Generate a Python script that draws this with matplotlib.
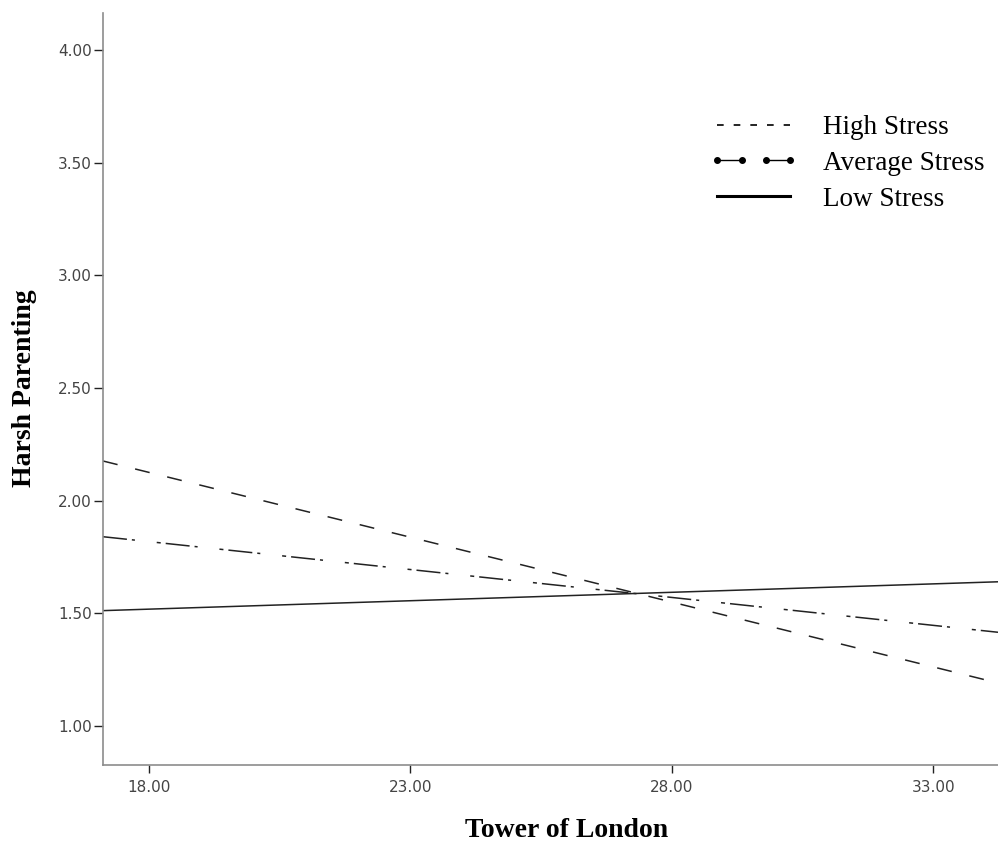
import numpy as np
import matplotlib.pyplot as plt
from matplotlib.lines import Line2D

# data (line end points)
tol_x = [17.12, 34.24]
high_stress = [2.176, 1.191]
avg_stress = [1.84, 1.416]
low_stress = [1.512, 1.640]

x_ticks = [18, 23, 28, 33]
y_ticks = [1.0, 1.5, 2.0, 2.5, 3.0, 3.5, 4.0]

plt.rcParams['lines.scale_dashes'] = False

fig = plt.figure(figsize=(9.98, 8.46), dpi=100)
ax = fig.add_axes([103 / 998, 1 - 765 / 846, 1 - 103 / 998, (765 - 13) / 846])

ax.plot(tol_x, high_stress, color='#222222', lw=1.1, linestyle=(0, (10.8, 13)))
ax.plot(tol_x, avg_stress, color='#222222', lw=1.1,
        linestyle=(0, (17.3, 3.6, 2.2, 15.8, 2.9, 3.6)))
ax.plot(tol_x, low_stress, color='#222222', lw=1.1)

ax.set_xlim(17.12, 34.24)
ax.set_ylim(0.827, 4.164)
ax.set_xticks(x_ticks)
ax.set_yticks(y_ticks)
ax.set_xticklabels(['%.2f' % v for v in x_ticks])
ax.set_yticklabels(['%.2f' % v for v in y_ticks])

for s in ['top', 'right']:
    ax.spines[s].set_visible(False)
for s in ['left', 'bottom']:
    ax.spines[s].set_color('#8c8c8c')
    ax.spines[s].set_linewidth(1.2)

ax.tick_params(axis='y', length=6.5, width=1.0, color='#222222', pad=1.5,
               labelsize=11, labelcolor='#444444')
ax.tick_params(axis='x', length=6, width=1.0, color='#222222', pad=5,
               labelsize=11, labelcolor='#444444')

serif = ['Liberation Serif', 'DejaVu Serif']
fig.text(567 / 998, 1 - 830 / 846, 'Tower of London', ha='center', va='center',
         fontsize=20, fontweight='bold', family=serif)
fig.text(25 / 998, 1 - 388 / 846, 'Harsh Parenting', ha='center', va='center',
         rotation=90, fontsize=20, fontweight='bold', family=serif)

# legend (handle line is inset by 0.3*fontsize on each side when numpoints > 1)
hl = 3.3
third = (hl - 0.6) * 19.5 / 3
handles = [
    Line2D([], [], color='black', lw=1.2, linestyle=(0, (4.8, 7.2))),
    Line2D([], [], color='black', lw=1.0, linestyle=(0, (third, third)),
           marker='o', markersize=4),
    Line2D([], [], color='black', lw=2.2),
]
labels = ['High Stress', 'Average Stress', 'Low Stress']
leg = ax.legend(handles, labels, loc='upper left',
                bbox_to_anchor=(709 / 998, 1 - 115 / 846),
                bbox_transform=fig.transFigure, frameon=False,
                prop={'family': serif, 'size': 19.5},
                handlelength=hl, handletextpad=0.91, labelspacing=0.4,
                borderpad=0, borderaxespad=0, numpoints=4)

fig.savefig('out.png', dpi=100)
plt.close()
